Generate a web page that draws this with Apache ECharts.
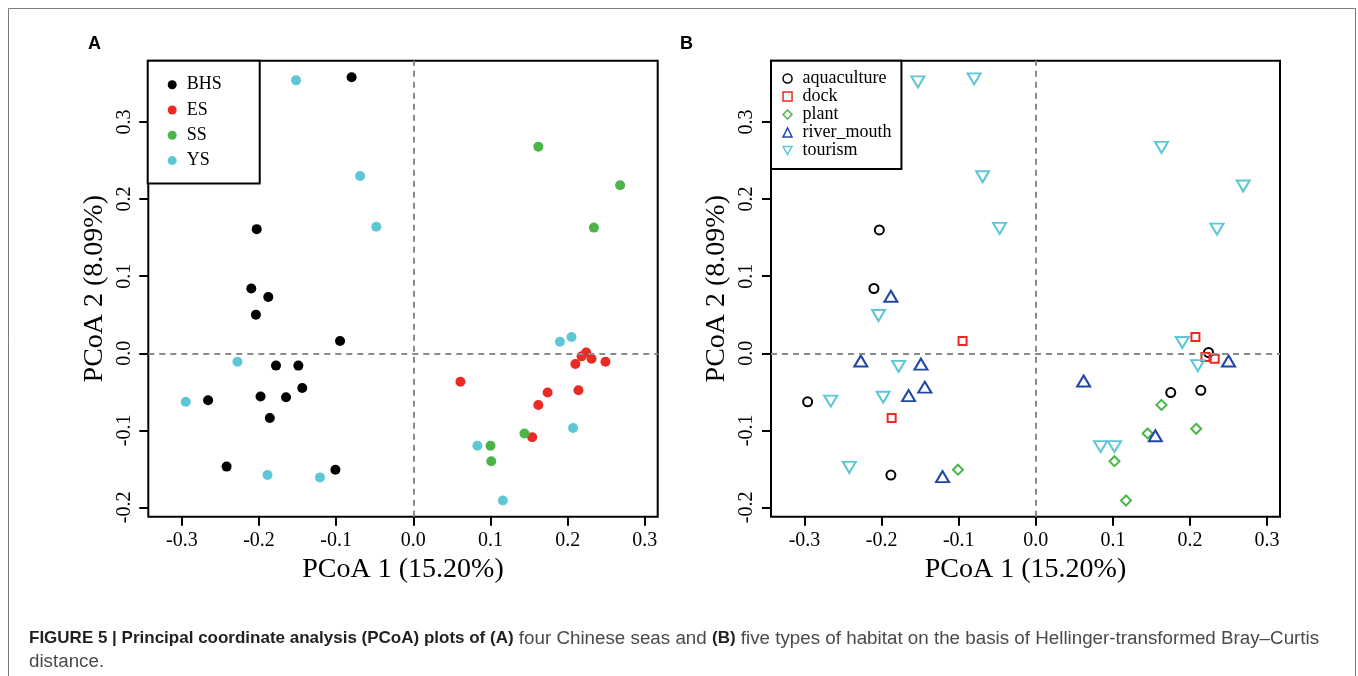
<!DOCTYPE html>
<html><head><meta charset="utf-8">
<script src="https://cdn.jsdelivr.net/npm/echarts@6/dist/echarts.min.js"></script>
<style>html,body{margin:0;padding:0;background:#fff}#c{width:1358px;height:676px}</style>
</head><body><div id="c"></div>
<script>
// ---- Panel A: four Chinese seas ----
const seaNames = ['BHS', 'ES', 'SS', 'YS'];
const bhs = [[-0.080,0.358],[-0.203,0.161],[-0.210,0.084],[-0.188,0.073],[-0.204,0.050],[-0.095,0.016],[-0.178,-0.016],[-0.149,-0.016],[-0.144,-0.045],[-0.198,-0.056],[-0.165,-0.057],[-0.266,-0.061],[-0.186,-0.084],[-0.242,-0.147],[-0.101,-0.151]];
const es  = [[0.061,-0.037],[0.174,-0.051],[0.162,-0.067],[0.214,-0.048],[0.154,-0.109],[0.210,-0.014],[0.218,-0.004],[0.224,0.001],[0.231,-0.007],[0.249,-0.011]];
const ss  = [[0.162,0.268],[0.268,0.218],[0.234,0.163],[0.144,-0.104],[0.100,-0.120],[0.101,-0.140]];
const ys  = [[-0.152,0.354],[-0.069,0.230],[-0.048,0.164],[-0.228,-0.011],[-0.295,-0.063],[-0.189,-0.158],[-0.121,-0.161],[0.190,0.015],[0.205,0.021],[0.207,-0.097],[0.083,-0.120],[0.116,-0.191]];

// ---- Panel B: five habitat types ----
const habitatNames = ['aquaculture', 'dock', 'plant', 'river_mouth', 'tourism'];
const aquaculture = [[-0.203,0.160],[-0.210,0.084],[-0.296,-0.063],[-0.188,-0.158],[0.224,0.001],[0.175,-0.051],[0.214,-0.048]];
const dock        = [[-0.095,0.016],[-0.187,-0.084],[0.207,0.021],[0.220,-0.005],[0.232,-0.007]];
const plant       = [[-0.101,-0.151],[0.163,-0.067],[0.208,-0.098],[0.145,-0.104],[0.102,-0.140],[0.117,-0.191]];
const riverMouth  = [[-0.188,0.074],[-0.227,-0.010],[-0.149,-0.014],[-0.144,-0.044],[-0.165,-0.055],[-0.121,-0.160],[0.062,-0.036],[0.250,-0.010],[0.155,-0.107]];
const tourism     = [[-0.153,0.352],[-0.080,0.356],[-0.069,0.229],[-0.047,0.162],[-0.204,0.049],[-0.178,-0.017],[-0.266,-0.062],[-0.198,-0.057],[-0.242,-0.148],[0.163,0.267],[0.269,0.217],[0.235,0.161],[0.190,0.014],[0.210,-0.016],[0.084,-0.121],[0.102,-0.121]];

// ---- axes / text ----
const xTicks = [-0.3,-0.2,-0.1,0.0,0.1,0.2,0.3];
const yTicks = [-0.2,-0.1,0.0,0.1,0.2,0.3];
const xTitle = 'PCoA 1 (15.20%)';
const yTitle = 'PCoA 2 (8.09%)';
const panelLabels = ['A', 'B'];
const captionBold1 = 'FIGURE 5 | Principal coordinate analysis (PCoA) plots of (A)';
const captionText1 = ' four Chinese seas and ';
const captionBold2 = '(B)';
const captionText2 = ' five types of habitat on the basis of Hellinger-transformed Bray–Curtis';
const captionLine2 = 'distance.';

const SERIF = 'Liberation Serif';
const X_MIN = -0.3435, X_MAX = 0.3167, Y_MIN = -0.212, Y_MAX = 0.3795;

function xAxis(gi) {
  return {
    type: 'value', gridIndex: gi, min: X_MIN, max: X_MAX,
    splitLine: {show: false}, axisLine: {show: false, onZero: false},
    axisTick: {show: true, customValues: xTicks, length: 9, inside: false, lineStyle: {color: '#000', width: 2}},
    axisLabel: {customValues: xTicks, formatter: v => v.toFixed(1), fontFamily: SERIF, fontSize: 20, color: '#000', margin: 14},
    name: xTitle, nameLocation: 'middle', nameGap: 36,
    nameTextStyle: {fontFamily: SERIF, fontSize: 28, color: '#000'}
  };
}
function yAxis(gi) {
  return {
    type: 'value', gridIndex: gi, min: Y_MIN, max: Y_MAX,
    splitLine: {show: false}, axisLine: {show: false, onZero: false},
    axisTick: {show: true, customValues: yTicks, length: 9, inside: false, lineStyle: {color: '#000', width: 2}},
    axisLabel: {customValues: yTicks, formatter: v => v.toFixed(1), rotate: 90, fontFamily: SERIF, fontSize: 20, color: '#000', margin: 14},
    name: yTitle, nameLocation: 'middle', nameGap: 40,
    nameTextStyle: {fontFamily: SERIF, fontSize: 28, color: '#000'}
  };
}

const dashStyle = {type: [6, 5], color: '#8a8a8a', width: 2};
function refLines(gi) {
  return {
    type: 'scatter', xAxisIndex: gi, yAxisIndex: gi, data: [], z: 1, silent: true,
    markLine: {silent: true, symbol: ['none', 'none'], label: {show: false}, lineStyle: dashStyle,
      emphasis: {disabled: true}, animation: false,
      data: [{xAxis: 0}, {yAxis: 0}]}
  };
}

function filled(name, data, color) {
  return {name, type: 'scatter', xAxisIndex: 0, yAxisIndex: 0, data, z: 3,
    symbol: 'circle', symbolSize: 10, itemStyle: {color, opacity: 1}};
}
function hollow(name, data, color, symbol, size, rotate) {
  return {name, type: 'scatter', xAxisIndex: 1, yAxisIndex: 1, data, z: 3,
    symbol, symbolSize: size, symbolRotate: rotate || 0,
    itemStyle: {color: 'rgba(0,0,0,0)', borderColor: color, borderWidth: 2, opacity: 1}};
}

const C_BLACK = '#000000', C_RED = '#ec2a24', C_GREEN = '#4cb548', C_CYAN = '#5ec7d6', C_BLUE = '#2147a6';
const DOWN_TRI = 'path://M0,0 L12,0 L6,10.5 Z';

const chart = echarts.init(document.getElementById('c'), null, {renderer: 'canvas'});
chart.setOption({
  animation: false,
  backgroundColor: '#fff',
  grid: [
    {left: 148.3, top: 60.7, width: 509.4, height: 456, show: true, borderColor: '#000', borderWidth: 2, backgroundColor: 'transparent'},
    {left: 771, top: 60.7, width: 509, height: 456, show: true, borderColor: '#000', borderWidth: 2, backgroundColor: 'transparent'}
  ],
  xAxis: [xAxis(0), xAxis(1)],
  yAxis: [yAxis(0), yAxis(1)],
  legend: [
    {data: seaNames, orient: 'vertical', left: 147.7, top: 60.7, padding: [15, 38, 14, 20],
     itemGap: 7.3, itemWidth: 9, itemHeight: 9, icon: 'circle', borderColor: '#000', borderWidth: 2,
     backgroundColor: '#fff', selectedMode: false,
     textStyle: {fontFamily: SERIF, fontSize: 18, color: '#000', lineHeight: 18, padding: [0, 0, 0, 5]}},
    {data: [
       {name: habitatNames[0]}, {name: habitatNames[1]}, {name: habitatNames[2]}, {name: habitatNames[3]},
       {name: habitatNames[4], icon: DOWN_TRI}
     ],
     orient: 'vertical', left: 771, top: 60.7, padding: [8.8, 10, 9.6, 11.3],
     itemGap: 0, itemWidth: 9, itemHeight: 9, borderColor: '#000', borderWidth: 2,
     backgroundColor: '#fff', selectedMode: false,
     itemStyle: {borderWidth: 1.5},
     textStyle: {fontFamily: SERIF, fontSize: 18, color: '#000', lineHeight: 17.5, padding: [0, 0, 0, 5.4]}}
  ],
  series: [
    refLines(0), refLines(1),
    filled(seaNames[0], bhs, C_BLACK),
    filled(seaNames[1], es, C_RED),
    filled(seaNames[2], ss, C_GREEN),
    filled(seaNames[3], ys, C_CYAN),
    hollow(habitatNames[0], aquaculture, C_BLACK, 'circle', 9),
    hollow(habitatNames[1], dock, C_RED, 'rect', 8),
    hollow(habitatNames[2], plant, C_GREEN, 'diamond', 10),
    hollow(habitatNames[3], riverMouth, C_BLUE, 'triangle', [13, 11]),
    hollow(habitatNames[4], tourism, C_CYAN, 'triangle', [13, 11], 180)
  ],
  graphic: [
    {type: 'polyline', silent: true, shape: {points: [[8.5, 676], [8.5, 8.5], [1355.5, 8.5], [1355.5, 676]]},
     style: {stroke: '#7a7a7a', lineWidth: 1, fill: null}},
    {type: 'text', left: 88, top: 35, style: {text: panelLabels[0], font: 'bold 18px "Liberation Sans"', fill: '#000'}},
    {type: 'text', left: 680, top: 35, style: {text: panelLabels[1], font: 'bold 18px "Liberation Sans"', fill: '#000'}},
    {type: 'text', left: 29, top: 629, style: {
      text: '{b|' + captionBold1 + '}{n|' + captionText1 + '}{b|' + captionBold2 + '}{n|' + captionText2 + '}',
      rich: {b: {fontFamily: 'Liberation Sans', fontWeight: 'bold', fontSize: 17, fill: '#231f20'},
             n: {fontFamily: 'Liberation Sans', fontSize: 18.8, fill: '#4a4a4a'}}}},
    {type: 'text', left: 29, top: 652, style: {text: captionLine2, font: '18.8px "Liberation Sans"', fill: '#4a4a4a'}}
  ]
});
</script></body></html>
